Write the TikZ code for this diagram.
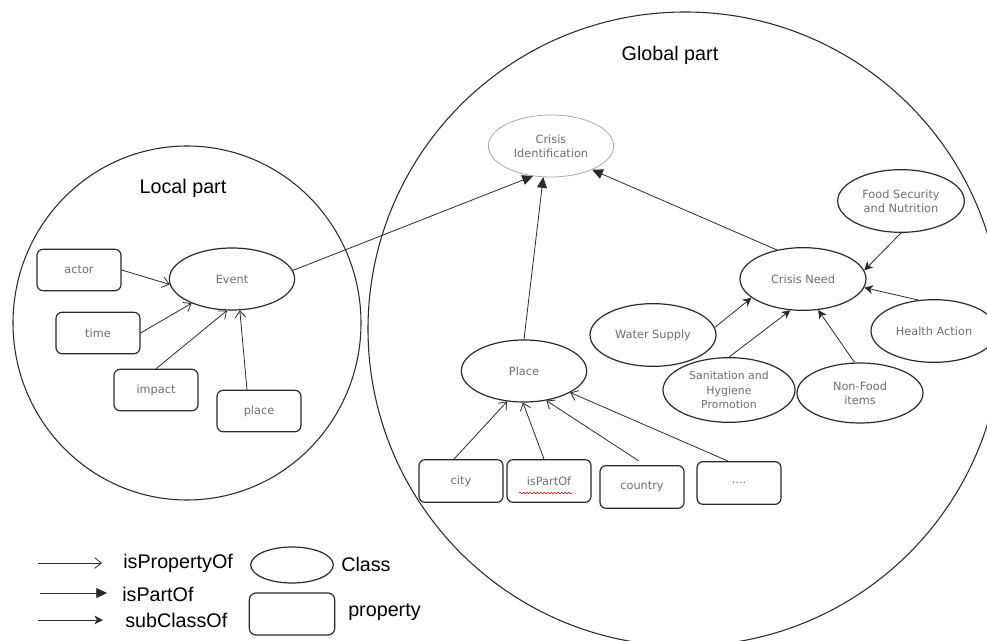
\documentclass[tikz,border=0pt]{standalone}
\usepackage{fontspec}
\setmainfont{Liberation Sans}
\newfontfamily\nodefont{DejaVu Sans}
\usetikzlibrary{arrows.meta,shapes.geometric,calc,decorations.pathmorphing}
\definecolor{txtgray}{HTML}{6E6E6E}
\definecolor{linegray}{HTML}{2A2A2A}
\definecolor{cigray}{HTML}{A8A8A8}
\tikzset{
  cls/.style={ellipse, draw=linegray, line width=0.9pt, inner sep=0pt,
    minimum width=94pt, minimum height=46.5pt, align=center,
    font=\nodefont\fontsize{8.5}{10.6}\selectfont, text=txtgray},
  propbox/.style={rectangle, rounded corners=4.5pt, draw=linegray, line width=0.9pt,
    inner sep=0pt, minimum width=63pt, minimum height=31pt,
    font=\nodefont\fontsize{8.5}{10.6}\selectfont, text=txtgray},
  circ/.style={draw=linegray, line width=0.8pt},
  lbl/.style={font=\fontsize{14.8}{17}\selectfont, text=black, inner sep=0pt},
  propof/.style={draw=linegray, line width=0.6pt, -{Straight Barb[length=5pt,width=8pt]}},
  partof/.style={draw=linegray, line width=0.6pt, -{Triangle[length=8pt,width=7.5pt]}},
  subcl/.style={draw=linegray, line width=0.6pt, -{Stealth[length=6.5pt,width=6.5pt,inset=2pt]}}
}
\begin{document}
\begin{tikzpicture}[x=0.75pt,y=-0.75pt]
\useasboundingbox (0,0) rectangle (987,641);
\clip (0,0) rectangle (987,641);

% big circles
\draw[circ] (187,323) ellipse [x radius=174, y radius=177];
\draw[circ] (685,329) circle [radius=317];

% titles
\node[lbl] (localt) at (183,188) {Local part};
\node[lbl] (globalt) at (670,55) {Global part};

% local part
\node[cls] (event) at (232,279) {Event};
\node[propbox] (actor) at (79,270) {actor};
\node[propbox] (time) at (98,333) {time};
\node[propbox] (impact) at (156,390) {impact};
\node[propbox] (place) at (259,411) {place};

\draw[propof] (actor.east) -- (event.185);
\draw[propof] (time.east) -- (event.211);
\draw[propof] (impact.north) -- (event.261);
\draw[propof] ($(place.north)+(-12,0)$) -- (event.284);

% global part
\node[cls, draw=cigray, line width=0.6pt] (ci) at (551,146) {Crisis\\Identification};
\node[cls] (placec) at (524,371) {Place};
\node[cls, minimum width=94.5pt, minimum height=47pt] (cn) at (803,279) {Crisis Need};
\node[cls, minimum width=95pt, minimum height=47pt] (food) at (901,201) {Food Security\\and Nutrition};
\node[cls, minimum width=94.5pt, minimum height=47pt] (water) at (653,335) {Water Supply};
\node[cls, minimum width=94.5pt, minimum height=47pt] (health) at (934,331) {Health Action};
\node[cls, minimum width=99pt, minimum height=48.5pt, font=\nodefont\fontsize{8.2}{10.8}\selectfont] (san) at (729,390) {Sanitation and\\Hygiene\\Promotion};
\node[cls, minimum width=94.5pt, minimum height=45pt] (nf) at (860,393) {Non-Food\\items};

\node[propbox, minimum height=32pt] (city) at (461,481) {city};
\node[propbox, minimum height=32pt] (ipo) at (549,481) {isPartOf};
\node[propbox, minimum height=32pt] (country) at (642,487) {country};
\node[propbox, minimum height=32pt] (dots) at (739,483) {....};
\draw[red!80!black, line width=0.4pt, decorate,
  decoration={snake, amplitude=0.55pt, segment length=2.6pt}]
  ($(ipo.center)+(-30,12)$) -- ($(ipo.center)+(23,12)$);

% isPartOf arrows to Crisis Identification
\draw[partof] (event.8) -- (ci.239);
\draw[partof] (placec.north) -- (ci.256);
\draw[partof] (cn.132) -- (ci.330);

% subclasses of Crisis Need
\draw[subcl] (food.south) -- (cn.8);
\draw[subcl] (health.117) -- (cn.352);
\draw[subcl] (water.7) -- (cn.200);
\draw[subcl] (san.north) -- (cn.248);
\draw[subcl] (nf.100) -- (cn.296);

% properties of Place
\draw[propof] ($(city.north)+(-7,0)$) -- (placec.241);
\draw[propof] ($(ipo.north)+(-5,0)$) -- (placec.268);
\draw[propof] ($(country.north)+(-3,-4)$) -- (placec.307);
\draw[propof] ($(dots.north)+(-11,0)$) -- (placec.335);

% legend
\coordinate (l1a) at (38,563);
\coordinate (l1b) at (102,563);
\coordinate (l2a) at (40,593);
\coordinate (l2b) at (107,593);
\coordinate (l3a) at (38,620);
\coordinate (l3b) at (103,620);
\draw[propof] (l1a) -- (l1b);
\draw[partof] (l2a) -- (l2b);
\draw[subcl] (l3a) -- (l3b);
\node[lbl, anchor=west] (tprop) at (123,563) {isPropertyOf};
\node[lbl, anchor=west] (tpart) at (122,594) {isPartOf};
\node[lbl, anchor=west] (tsub) at (125,620) {subClassOf};
\node[ellipse, draw=linegray, line width=0.9pt, minimum width=62pt, minimum height=27pt, inner sep=0pt] (lcls) at (292,565) {};
\node[rectangle, rounded corners=5pt, draw=linegray, line width=0.9pt, minimum width=64pt, minimum height=31.5pt, inner sep=0pt] (lprop) at (292,614) {};
\node[lbl, anchor=west] (tcls) at (341,564) {Class};
\node[lbl, anchor=west] (tpropty) at (348,612) {property};
\end{tikzpicture}
\end{document}
